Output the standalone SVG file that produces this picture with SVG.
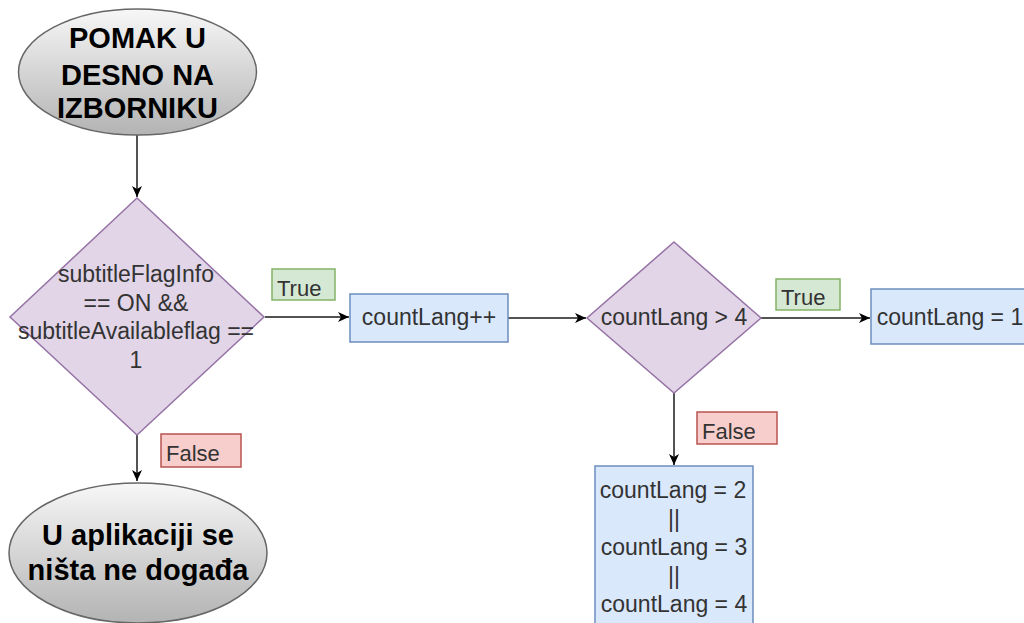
<svg xmlns="http://www.w3.org/2000/svg" width="1024" height="623" viewBox="0 0 1024 623">
<style>
.term{stroke:#666666;stroke-width:1.5;fill:url(#gray)}
.dec{fill:#e1d5e7;stroke:#9673a6;stroke-width:1.5}
.proc{fill:#dae8fc;stroke:#6c8ebf;stroke-width:1.5}
.lt{fill:#d5e8d4;stroke:#82b366;stroke-width:1.5}
.lf{fill:#f8cecc;stroke:#b85450;stroke-width:1.5}
.bt{font-family:"Liberation Sans",Arial,sans-serif;font-weight:bold;font-size:29px;fill:#000;text-anchor:middle}
.t{font-family:"Liberation Sans",Arial,sans-serif;font-size:23px;fill:#333333}
.l{font-size:22px}
.c{text-anchor:middle}
.edge{stroke:#1a1a1a;stroke-width:1.5;fill:none;marker-end:url(#arr)}
</style>
<defs>
<linearGradient id="gray" x1="0" y1="0" x2="0" y2="1">
<stop offset="0" stop-color="#f7f7f7"/>
<stop offset="1" stop-color="#b3b3b3"/>
</linearGradient>
<marker id="arr" markerUnits="userSpaceOnUse" markerWidth="12" markerHeight="12" viewBox="0 0 12 12" refX="11" refY="6" orient="auto">
<path d="M0,1 L11,6 L0,11 L3,6 z" fill="#000"/>
</marker>
</defs>
<rect width="1024" height="623" fill="#ffffff"/>
<g id="connectors">
<path class="edge" d="M137,135 L137,197"/>
<path class="edge" d="M265,317 L349,317"/>
<path class="edge" d="M137,435 L137,481"/>
<path class="edge" d="M508,318 L586,318"/>
<path class="edge" d="M761,318 L870,318"/>
<path class="edge" d="M674,393 L674,465"/>
</g>
<g id="start">
<ellipse class="term" cx="137.5" cy="72" rx="119" ry="63"/>
<text class="bt" x="137.5" y="48">POMAK U</text>
<text class="bt" x="137.5" y="85">DESNO NA</text>
<text class="bt" x="137.5" y="118">IZBORNIKU</text>
</g>
<g id="cond1">
<polygon class="dec" points="137,198 264,317 137,435 10,317"/>
<text class="t c" x="136" y="282">subtitleFlagInfo</text>
<text class="t c" x="136" y="310.5">== ON &amp;&amp;</text>
<text class="t c" x="136" y="339">subtitleAvailableflag ==</text>
<text class="t c" x="136" y="367.5">1</text>
</g>
<g id="labelTrue1">
<rect class="lt" x="272" y="269" width="63" height="31"/>
<text class="t l" x="277" y="296">True</text>
</g>
<g id="labelFalse1">
<rect class="lf" x="161" y="434" width="80" height="33"/>
<text class="t l" x="166" y="461">False</text>
</g>
<g id="end">
<ellipse class="term" cx="138" cy="553" rx="129" ry="70"/>
<text class="bt" x="138" y="545">U aplikaciji se</text>
<text class="bt" x="138" y="580">ništa ne događa</text>
</g>
<g id="inc">
<rect class="proc" x="350" y="294" width="158" height="48"/>
<text class="t c" x="429" y="325">countLang++</text>
</g>
<g id="cond2">
<polygon class="dec" points="674,242 761,318 674,393 587,318"/>
<text class="t c" x="674" y="325">countLang &gt; 4</text>
</g>
<g id="labelTrue2">
<rect class="lt" x="776" y="279" width="64" height="31"/>
<text class="t l" x="781" y="305">True</text>
</g>
<g id="set1">
<rect class="proc" x="871" y="289" width="160" height="55"/>
<text class="t c" x="950" y="325">countLang = 1</text>
</g>
<g id="labelFalse2">
<rect class="lf" x="697" y="412" width="80" height="32"/>
<text class="t l" x="702" y="439">False</text>
</g>
<g id="other">
<rect class="proc" x="595" y="466" width="158" height="170"/>
<text class="t c" x="673" y="498">countLang = 2</text>
<text class="t c" x="674" y="527">||</text>
<text class="t c" x="674" y="555">countLang = 3</text>
<text class="t c" x="674" y="584">||</text>
<text class="t c" x="674" y="612">countLang = 4</text>
</g>
</svg>
